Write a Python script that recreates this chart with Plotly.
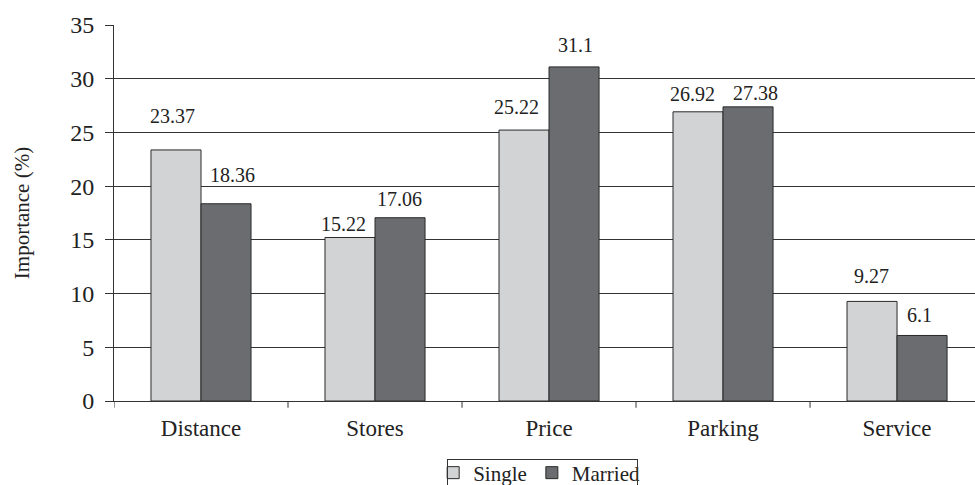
import plotly.graph_objects as go

categories = ["Distance", "Stores", "Price", "Parking", "Service"]
single = [23.37, 15.22, 25.22, 26.92, 9.27]
married = [18.36, 17.06, 31.1, 27.38, 6.1]
y_ticks = [0, 5, 10, 15, 20, 25, 30, 35]

# hand-placed label nudges (pixels): horizontal shift and gap above the bar
single_dx = [-4, -7, -8, -6, -1]
single_dy = [21, 0, 10, 5, 12]
married_dx = [7, 0, 2, 7, -3]
married_dy = [16, 6, 9, 1, 7]

FONT = "Liberation Serif, Times New Roman, serif"
LIGHT = "#d2d3d5"
DARK = "#6b6c70"
EDGE = "#2a2a2a"
INK = "#222"

fig = go.Figure()
fig.add_trace(go.Bar(
    name="Single", x=categories, y=single,
    marker=dict(color=LIGHT, line=dict(color=EDGE, width=1)),
))
fig.add_trace(go.Bar(
    name="Married", x=categories, y=married,
    marker=dict(color=DARK, line=dict(color=EDGE, width=1)),
))

# value labels above each bar
half = 0.1435
for off, vals, dxs, dys in ((-half, single, single_dx, single_dy),
                            (half, married, married_dx, married_dy)):
    for i, v in enumerate(vals):
        fig.add_annotation(
            x=i + off, y=v, xref="x", yref="y",
            text=str(v), showarrow=False, yanchor="bottom",
            xshift=dxs[i], yshift=dys[i],
            font=dict(family=FONT, size=20, color=INK),
        )

fig.update_layout(
    width=975, height=485,
    margin=dict(l=114, r=0, t=25, b=84, autoexpand=False),
    plot_bgcolor="white", paper_bgcolor="white",
    barmode="group", bargap=0.425, bargroupgap=0,
    font=dict(family=FONT, size=20, color=INK),
    showlegend=True,
    legend=dict(
        orientation="h", xref="container", yref="container",
        x=0.553, xanchor="center", y=0.067, yanchor="top",
        bgcolor="rgba(0,0,0,0)", borderwidth=0,
        font=dict(family=FONT, size=21), itemwidth=30, tracegroupgap=0,
    ),
)

# legend frame: an empty bordered box whose lower edge runs off the figure
fig.add_annotation(
    xref="paper", yref="paper", x=(447 - 114) / 861, y=(401 - 459) / 376,
    xanchor="left", yanchor="top", text="", showarrow=False,
    width=189, height=40, borderpad=0, bordercolor="#333", borderwidth=1,
    bgcolor="rgba(0,0,0,0)",
)

fig.update_xaxes(
    range=[-0.5, 4.448], showgrid=False, showline=True, linecolor="#333", linewidth=1,
    ticks="", tickfont=dict(family=FONT, size=23, color=INK), automargin=False,
    ticklabelstandoff=6,
)
fig.update_yaxes(
    range=[0, 35], tickvals=y_ticks, showgrid=True, gridcolor="#333", gridwidth=1,
    showline=True, linecolor="#333", linewidth=1, ticks="outside", ticklen=8,
    tickcolor="#333", zeroline=False, automargin=False, ticklabelstandoff=6,
    title=dict(text="Importance (%)", font=dict(family=FONT, size=21, color=INK), standoff=34),
    tickfont=dict(family=FONT, size=24, color=INK),
)
# category boundary ticks on the x axis
for b in [-0.5, 0.5, 1.5, 2.5, 3.5]:
    fig.add_shape(type="line", xref="x", yref="paper", x0=b, x1=b, y0=0, y1=-0.018,
                  line=dict(color="#333", width=1))

fig.write_html("out.html")
